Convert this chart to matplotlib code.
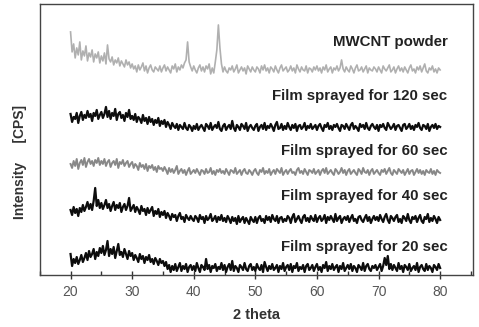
import numpy as np
import matplotlib
matplotlib.use('Agg')
import matplotlib.pyplot as plt
from matplotlib.ticker import MultipleLocator

# 2 theta grid, 0.25 deg step from 20 to 80
theta_start=20
theta_stop=80
theta_step=0.25

# intensities, relative to each trace's tail level (one row = 5 deg)
mwcnt=[38,18,26,12,22,15,28,10,19,14,24,9,17,13,20,8,16,12,18,7,
       14,9,17,6,25,11,8,13,5,10,7,12,4,9,6,3,10,5,8,2,
       6,1,4,-2,5,0,3,7,-1,4,-3,2,5,0,-2,3,1,-1,4,-2,
       2,5,-1,3,0,-3,4,1,6,-2,3,0,5,2,7,10,28,8,3,-1,
       4,0,-3,2,5,-1,3,-2,4,1,6,-4,2,-3,8,20,45,22,6,-2,
       3,-1,-3,2,0,4,-2,1,5,-3,0,3,-1,2,-4,4,1,-2,3,0,
       -2,3,1,-3,4,0,5,-1,2,-3,3,1,-2,4,0,-3,2,5,-1,1,
       3,-2,0,4,-1,2,-3,5,1,-2,3,0,-1,4,-3,2,1,-2,3,0,
       4,-1,2,-3,3,0,5,-2,1,3,-3,2,0,4,-1,2,10,1,-2,3,
       0,-2,4,1,-3,2,5,-1,0,3,-2,1,4,-3,2,0,-1,3,1,-2,
       3,0,-3,4,1,-1,2,5,-2,0,3,-3,1,4,-1,2,-2,3,0,-3,
       2,5,-1,1,-3,3,0,4,-2,2,6,-1,-3,2,0,4,-2,1,-3,2,
       0]
film120=[13,5,10,8,14,4,11,15,7,12,9,16,10,13,6,14,11,17,8,12,
         15,9,13,20,10,16,8,14,11,18,7,13,15,9,12,6,14,10,17,8,
         11,7,13,5,10,8,4,12,6,9,3,10,5,8,2,7,4,9,1,6,
         3,7,0,5,2,-2,4,1,-1,3,-3,2,0,-2,4,-1,-3,2,0,-4,
         1,-2,3,-3,0,2,-1,-4,3,1,-2,4,-3,0,2,-1,5,-2,-4,1,
         3,-3,0,2,-2,6,-1,-4,2,0,-3,3,1,-2,4,-4,0,2,-1,-3,
         1,3,-4,0,2,-2,4,-3,1,-1,3,0,-4,2,5,-2,-1,3,-3,1,
         -2,4,0,-3,2,-1,3,-4,1,2,-2,0,4,-3,1,-1,3,-2,0,2,
         -3,1,3,-1,-4,2,0,4,-2,1,-3,2,0,3,-1,-4,2,1,-2,3,
         0,-3,2,4,-2,1,-1,-4,3,0,2,-2,4,-1,-3,1,3,0,-2,2,
         -4,2,0,3,-1,-3,4,1,-2,0,3,-3,1,2,-1,-4,2,3,-2,0,
         3,-2,1,-3,2,0,4,-1,-3,2,1,-2,3,-4,0,2,-1,3,-2,1,
         0]
film60=[8,4,11,6,13,3,9,12,7,14,5,10,13,8,11,6,12,9,14,7,
        11,8,13,6,10,12,5,9,11,7,13,4,10,8,12,6,9,11,5,8,
        10,4,8,6,2,9,5,7,3,8,1,6,4,7,2,5,0,6,3,4,
        1,5,2,-2,4,0,3,-1,2,6,-2,1,3,-1,2,-3,1,4,-2,0,
        2,-1,3,0,-3,2,1,-2,3,-1,0,4,-2,1,-3,2,0,3,-1,1,
        -2,3,0,-3,2,1,-1,4,-2,0,2,-3,1,3,-1,-2,2,0,-3,1,
        3,-1,-3,2,0,4,-2,1,-1,3,-3,0,2,-2,3,1,-1,4,-3,0,
        2,-2,1,3,-1,0,-3,2,4,-1,1,-2,3,0,-3,2,1,-1,3,-2,
        0,2,-3,1,3,-1,4,-2,0,2,-1,-3,3,1,-2,0,4,-1,2,-3,
        1,3,-2,0,2,-1,-3,3,1,-2,4,0,-1,2,-3,1,3,-2,0,2,
        -1,-3,2,0,3,-2,1,4,-1,-3,2,0,-2,3,1,-1,2,-3,0,3,
        -2,1,2,-3,0,3,-1,2,-2,1,-3,2,0,-1,3,-2,1,-3,2,0,
        -1]
film40=[9,4,12,6,10,3,11,7,14,8,12,17,10,15,9,18,31,13,19,11,
        16,10,14,19,11,15,8,13,17,9,14,11,16,7,12,15,9,13,21,8,
        11,14,7,12,9,5,13,8,10,4,11,6,9,12,3,8,5,10,2,7,
        4,8,1,6,3,-1,5,2,4,-2,3,6,0,2,-3,4,1,-1,3,0,
        -2,3,1,-3,4,0,2,-4,3,-1,1,5,-2,0,3,-3,2,-1,4,-2,
        1,-3,3,0,-4,2,-2,1,-5,3,-3,0,2,-4,1,-2,-5,2,-1,-3,
        2,-4,1,3,-2,0,-4,3,-1,2,-3,4,0,-2,3,-4,1,2,-3,0,
        -2,3,1,-4,2,5,-3,0,3,-1,-4,2,4,-2,1,-3,3,0,-2,4,
        -3,1,3,-2,0,4,-4,2,-1,3,0,-3,5,-2,1,3,-4,0,2,-1,
        3,-3,1,4,-2,0,-4,2,3,-1,-3,1,4,-2,2,-4,0,3,-1,2,
        -2,4,0,-3,2,5,-1,-4,3,1,-2,2,4,-3,0,-4,3,1,-2,5,
        -1,-4,2,0,3,-3,1,4,-2,-4,2,0,5,-3,1,-2,3,0,-4,2,
        -1]
film20=[14,2,9,5,11,4,8,13,6,10,15,8,17,11,14,19,9,16,12,20,
        15,22,13,18,27,12,19,14,21,10,17,24,13,16,11,19,14,9,17,12,
        15,8,13,10,6,14,9,12,5,11,8,13,6,9,4,10,7,3,9,5,
        7,2,6,-1,3,-4,2,-2,4,-3,1,5,-3,2,-1,4,-4,1,3,-2,
        2,-3,5,0,-4,3,1,-2,9,-1,3,-4,2,0,4,-3,1,-1,5,-2,
        3,-4,1,4,-2,7,-3,2,0,-4,3,1,-2,5,-1,-3,2,4,-2,1,
        -3,4,0,-2,3,-4,6,1,-3,2,-1,4,-2,0,3,-4,2,-1,5,-3,
        1,3,-2,4,-4,2,0,5,-3,1,-1,3,-4,2,4,-2,0,3,-3,1,
        4,-2,1,-4,3,0,6,-3,2,-1,4,-2,1,3,-4,2,-1,5,-3,0,
        3,-1,4,-3,2,0,-4,3,1,-2,5,-3,2,4,-1,-3,2,0,3,-2,
        1,4,-3,2,10,3,12,-1,4,-2,3,0,-3,5,-1,2,-4,3,1,-2,
        4,-3,0,2,-2,5,-4,1,3,-1,-3,4,-2,2,0,-4,3,1,-2,4,
        0]

series=[mwcnt,film120,film60,film40,film20]
labels=['MWCNT powder','Film sprayed for 120 sec','Film sprayed for 60 sec',
        'Film sprayed for 40 sec','Film sprayed for 20 sec']
offsets=[205,148,103,56,7]
label_y=[233,179,124,79,28]
colors=['#b0b0b0','#0d0d0d','#888888','#0d0d0d','#0d0d0d']
widths=[1.2,1.6,1.4,1.6,1.6]

theta=np.arange(theta_start,theta_stop+theta_step/2,theta_step)

plt.rcParams['font.family']=['Liberation Sans','DejaVu Sans']
fig=plt.figure(figsize=(4.79,3.27),dpi=100)
ax=fig.add_axes([0.083,0.159,0.904,0.829])
for y,lab,off,ly,c,w in zip(series,labels,offsets,label_y,colors,widths):
  ax.plot(theta,np.array(y)+off,color=c,lw=w)
  ax.text(81.2,ly,lab,ha='right',va='center',fontsize=10.8,fontweight='bold',color='#222222')
ax.set_xlim(15,85.3)
ax.set_ylim(0,271)
ax.xaxis.set_major_locator(MultipleLocator(10))
ax.xaxis.set_minor_locator(MultipleLocator(5))
ax.set_yticks([])
ax.tick_params(axis='x',which='major',direction='inout',length=6,width=1,labelsize=10,colors='#333333',pad=4)
ax.tick_params(axis='x',which='minor',direction='in',length=3,width=1,colors='#333333')
ax.tick_params(axis='x',labelcolor='#555555')
for s in ax.spines.values():
  s.set_color('#444444')
  s.set_linewidth(1.0)
ax.set_xlabel('2 theta',fontsize=10.5,fontweight='bold',color='#333333',labelpad=7)
fig.text(20/479,1-162/327,'Intensity     [CPS]',rotation=90,ha='center',va='center',
         fontsize=10,fontweight='bold',color='#333333')
fig.savefig('out.png',dpi=100)
